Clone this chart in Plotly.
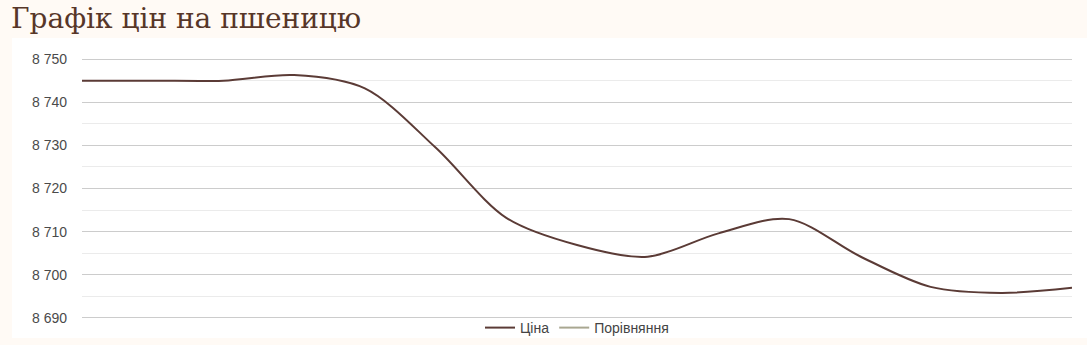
import plotly.graph_objects as go

# Data
days = [1, 2, 3, 4, 5, 6, 7, 8, 9, 10, 11, 12, 13, 14, 15]
price = [8745.0, 8745.0, 8745.0, 8746.3, 8743.2, 8729.5, 8713.2, 8706.9,
         8704.2, 8709.6, 8712.9, 8704.3, 8697.2, 8695.8, 8697.0]
y_ticks = [8690, 8700, 8710, 8720, 8730, 8740, 8750]
y_tick_text = ["8 690", "8 700", "8 710", "8 720", "8 730", "8 740", "8 750"]

title_text = "Графік цін на пшеницю"
series_names = ["Ціна", "Порівняння"]

LINE = "#5b3b36"
COMP = "#a9a791"

fig = go.Figure()
fig.add_trace(go.Scatter(
    x=days, y=price, mode="lines", name=series_names[0],
    line=dict(color=LINE, width=2, shape="spline", smoothing=0.9),
    hoverinfo="y",
))
fig.add_trace(go.Scatter(
    x=[None], y=[None], mode="lines", name=series_names[1],
    line=dict(color=COMP, width=2),
))

W, H = 1087, 345
L, R, T, B = 82, 15, 58, 26
pw, ph = W - L - R, H - T - B

def px_x(p):
    return (p - L) / pw

def px_y(p):
    return (H - B - p) / ph

# white card behind the chart
fig.add_shape(type="rect", xref="paper", yref="paper",
              x0=px_x(12), x1=px_x(1087), y0=px_y(338), y1=px_y(38),
              fillcolor="white", line=dict(width=0), layer="below")

fig.add_annotation(text=title_text, xref="paper", yref="paper",
                   x=px_x(9), y=px_y(0), xanchor="left", yanchor="top",
                   showarrow=False,
                   font=dict(family="DejaVu Serif", size=28, color="#573628"))

fig.update_layout(
    width=W, height=H,
    margin=dict(l=L, r=R, t=T, b=B, autoexpand=False),
    paper_bgcolor="#fffaf5",
    plot_bgcolor="white",
    showlegend=True,
    legend=dict(orientation="h", x=0.5, xanchor="center", y=px_y(328),
                yanchor="middle", font=dict(family="Liberation Sans", size=14, color="#444"),
                bgcolor="rgba(0,0,0,0)", itemwidth=30),
    xaxis=dict(visible=False, range=[days[0], days[-1]]),
    yaxis=dict(range=[8689.75, 8750.25], tickvals=y_ticks, ticktext=y_tick_text,
               showgrid=True, gridcolor="#cccccc", gridwidth=1,
               zeroline=False, showline=False,
               ticks="", ticklabelstandoff=14,
               tickfont=dict(family="Liberation Sans", size=14, color="#4a4a4a"),
               minor=dict(dtick=5, tick0=8690, showgrid=True, gridcolor="#ebebeb", gridwidth=1)),
    font=dict(family="Liberation Sans"),
)

fig.write_html("out.html")
